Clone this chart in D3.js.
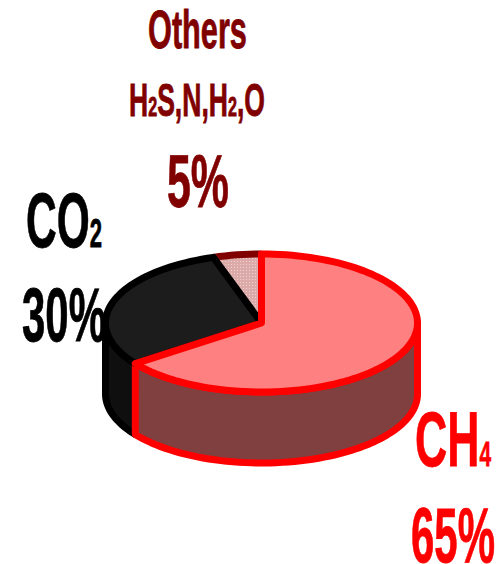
<!DOCTYPE html>
<html lang="en">
<head>
<meta charset="UTF-8">
<title>Gas composition</title>
<script src="https://cdn.jsdelivr.net/npm/d3@7/dist/d3.min.js"></script>
<style>
body { margin: 0; background: #fff; }
text { font-family: "Liberation Sans", Arial, sans-serif; font-weight: bold; stroke-width: 0.8; }
</style>
</head>
<body>
<script>
var categories = ["CH4", "CO2", "Others"];
var values = [65, 30, 5];
var topColors = ["#FF8080", "#1C1C1C", "url(#dots)"];
var sideColors = ["#804040", "#0F0F0F", "#804040"];
var edgeColors = ["#FF0000", "#000000", "#800000"];

var width = 499, height = 564;
var cx = 261.5, cy = 323, rx = 156, ry = 69, depth = 71;

var svg = d3.select("body").append("svg")
  .attr("width", width)
  .attr("height", height);

var pattern = svg.append("defs").append("pattern")
  .attr("id", "dots")
  .attr("width", 3).attr("height", 3)
  .attr("patternUnits", "userSpaceOnUse");
pattern.append("rect").attr("width", 3).attr("height", 3).attr("fill", "#DDAAAA");
pattern.append("rect").attr("width", 1).attr("height", 1).attr("fill", "#EFD2D2");

var slices = d3.pie().sort(null)(values);

// unit circle -> flattened disc
var x = d3.scaleLinear().domain([-1, 1]).range([cx - rx, cx + rx]);
var y = d3.scaleLinear().domain([-1, 1]).range([cy - ry, cy + ry]);
var line = d3.line().x(function (p) { return p[0]; }).y(function (p) { return p[1]; });

function rim(a0, a1, dy) {
  var n = Math.max(2, Math.ceil(Math.abs(a1 - a0) / 0.04));
  return d3.range(n + 1).map(function (i) {
    var a = a0 + (a1 - a0) * i / n;
    return [x(Math.sin(a)), y(-Math.cos(a)) + dy];
  });
}

// walls, only the part facing the viewer
var right = Math.PI / 2, left = 3 * Math.PI / 2;
function wall(a0, a1, fill, stroke) {
  var pts = rim(a0, a1, 0).concat(rim(a1, a0, depth));
  svg.append("path")
    .attr("d", line(pts) + "Z")
    .attr("fill", fill)
    .attr("stroke", stroke)
    .attr("stroke-width", 7)
    .attr("stroke-linejoin", "round");
}
wall(slices[0].endAngle, left, sideColors[1], edgeColors[1]);
wall(right, slices[0].endAngle, sideColors[0], edgeColors[0]);

// top faces, drawn back to front
[2, 1, 0].forEach(function (i) {
  var s = slices[i];
  var arc = rim(s.startAngle, s.endAngle, 0);
  svg.append("path")
    .attr("d", line([[x(0), y(0)]].concat(arc)) + "Z")
    .attr("fill", topColors[i])
    .attr("stroke", i == 2 ? "none" : edgeColors[i])
    .attr("stroke-width", 7)
    .attr("stroke-linejoin", "round");
  if (i == 2) {
    svg.append("path")
      .attr("d", line(arc))
      .attr("fill", "none")
      .attr("stroke", edgeColors[2])
      .attr("stroke-width", 7);
  }
});

// labels: text pieces, left, baseline, fitted width, font sizes, colour
// the originals are a condensed face, so squeeze to the measured width
function label(parts, lx, base, len, size, subSize, color) {
  var t = svg.append("text")
    .attr("fill", color)
    .attr("stroke", color)
    .attr("font-size", size);
  parts.forEach(function (p) {
    t.append("tspan").attr("font-size", p[1] ? subSize : size).text(p[0]);
  });
  var sx = len / t.node().getComputedTextLength();
  t.attr("transform", "translate(" + lx + "," + base + ") scale(" + sx + ",1)");
}

label([["Others", 0]], 148, 48, 99, 54, 0, "#800000");
label([["H", 0], ["2", 1], ["S,N,H", 0], ["2", 1], [",O", 0]], 129, 116, 136, 46, 28, "#800000");
label([["5%", 0]], 167, 207, 62, 75, 0, "#800000");
label([["CO", 0], ["2", 1]], 26, 247, 76, 77, 40, "#000000");
label([["30%", 0]], 22, 341, 84, 76, 0, "#000000");
label([["CH", 0], ["4", 1]], 415, 466, 76, 77, 36, "#FF0000");
label([["65%", 0]], 411, 562, 84, 77, 0, "#FF0000");
</script>
</body>
</html>
